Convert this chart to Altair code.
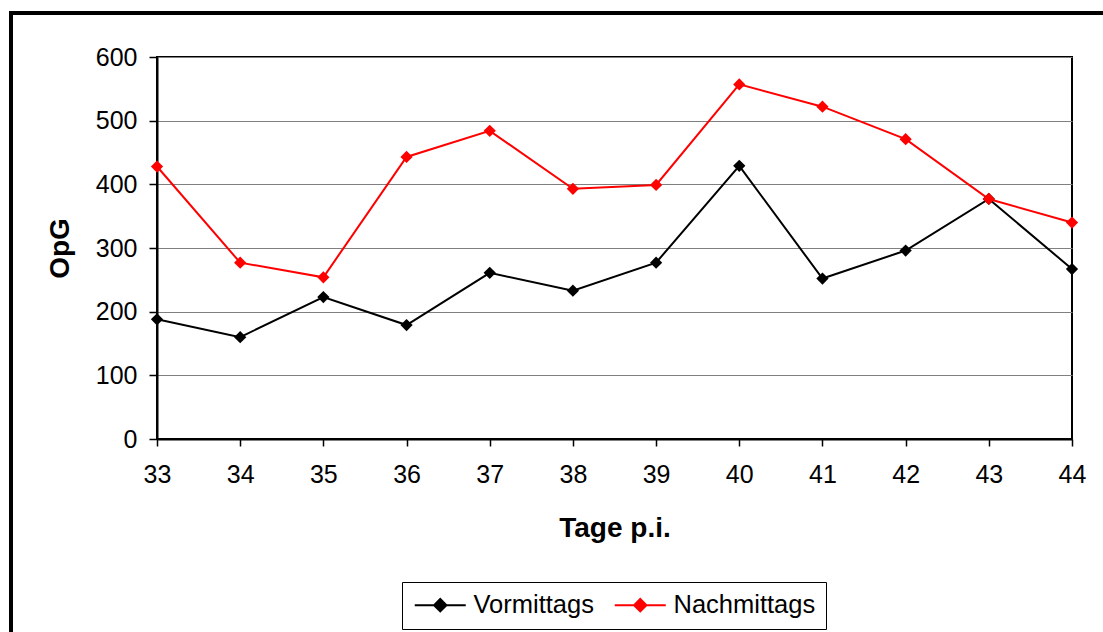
import altair as alt
import pandas as pd

# Tage p.i. and the two daily series (OpG)
days = [33, 34, 35, 36, 37, 38, 39, 40, 41, 42, 43, 44]
vormittags = [188, 160, 223, 179, 261, 233, 277, 429, 252, 296, 377, 267]
nachmittags = [428, 277, 254, 443, 484, 393, 399, 557, 522, 471, 377, 340]
series_names = ["Vormittags", "Nachmittags"]
series_colors = ["#000000", "#ff0000"]
y_ticks = [0, 100, 200, 300, 400, 500, 600]

rows = []
for name, vals in zip(series_names, [vormittags, nachmittags]):
    for d, v in zip(days, vals):
        rows.append({"Tag": d, "OpG": v, "Serie": name})
df = pd.DataFrame(rows)

FONT = "Liberation Sans"
W, H = 915, 382

# legend glyph: a line with a solid diamond on it (nested rings fill the diamond);
# drawn in units of 10 px so the legend rows stay compact
cx = 1.55
diamond = ""
for r in [0.62, 0.48, 0.34, 0.2, 0.06]:
    diamond += f" M{cx},{-r}L{cx + r},0L{cx},{r}L{cx - r},0Z"
legend_symbol = "M-1,0L4.1,0" + diamond

x_enc = alt.X(
    "Tag:Q",
    scale=alt.Scale(domain=[33, 44], nice=False, zero=False),
    axis=alt.Axis(
        values=days, format="d", title="Tage p.i.", grid=False,
        tickSize=7, tickWidth=1.5, tickColor="black",
        domainColor="black", domainWidth=2,
        labelFont=FONT, labelFontSize=25, labelColor="black",
        labelPadding=16, labelFlush=False,
        titleFont=FONT, titleFontSize=28, titleFontWeight="bold",
        titleColor="black", titleBaseline="alphabetic",
        titleX=W / 2, titleY=97,
    ),
)
y_enc = alt.Y(
    "OpG:Q",
    scale=alt.Scale(domain=[0, 600], nice=False),
    axis=alt.Axis(
        values=y_ticks, title="OpG", grid=True,
        gridColor="#808080", gridWidth=1,
        tickSize=8, tickWidth=1.5, tickColor="black",
        domainColor="black", domainWidth=2,
        labelFont=FONT, labelFontSize=25, labelColor="black",
        labelPadding=12,
        titleFont=FONT, titleFontSize=28, titleFontWeight="bold",
        titleColor="black", titleAngle=270, titleBaseline="alphabetic",
        titleAlign="center", titleX=-89, titleY=H / 2,
    ),
)

lines = alt.Chart(df).mark_line(
    strokeWidth=2,
    point=alt.OverlayMarkDef(shape="diamond", filled=True, size=150, opacity=1),
).encode(
    x=x_enc,
    y=y_enc,
    color=alt.Color(
        "Serie:N",
        scale=alt.Scale(domain=series_names, range=series_colors),
        sort=series_names,
        legend=alt.Legend(
            title=None, orient="none", direction="horizontal",
            legendX=245, legendY=525,
            symbolType=legend_symbol, symbolSize=400,
            symbolStrokeWidth=2, symbolOpacity=1,
            labelFont=FONT, labelFontSize=25.5, labelColor="black",
            labelOffset=36, columnPadding=16,
            padding=10, strokeColor="black",
        ),
    ),
)

# outer chart frame
frame = alt.Chart(pd.DataFrame({"a": [0]})).mark_rect(
    fillOpacity=0, stroke="black", strokeWidth=4
).encode(
    x=alt.value(-146), x2=alt.value(980),
    y=alt.value(-44), y2=alt.value(600),
)

chart = alt.layer(frame, lines).properties(
    width=W, height=H,
    autosize=alt.AutoSizeParams(type="none"),
    padding={"left": 157, "top": 57, "right": 31, "bottom": 193},
    background="white",
).configure_view(stroke="black", strokeWidth=2)

chart.save("out.html", embed_options={"renderer": "svg", "actions": False})
